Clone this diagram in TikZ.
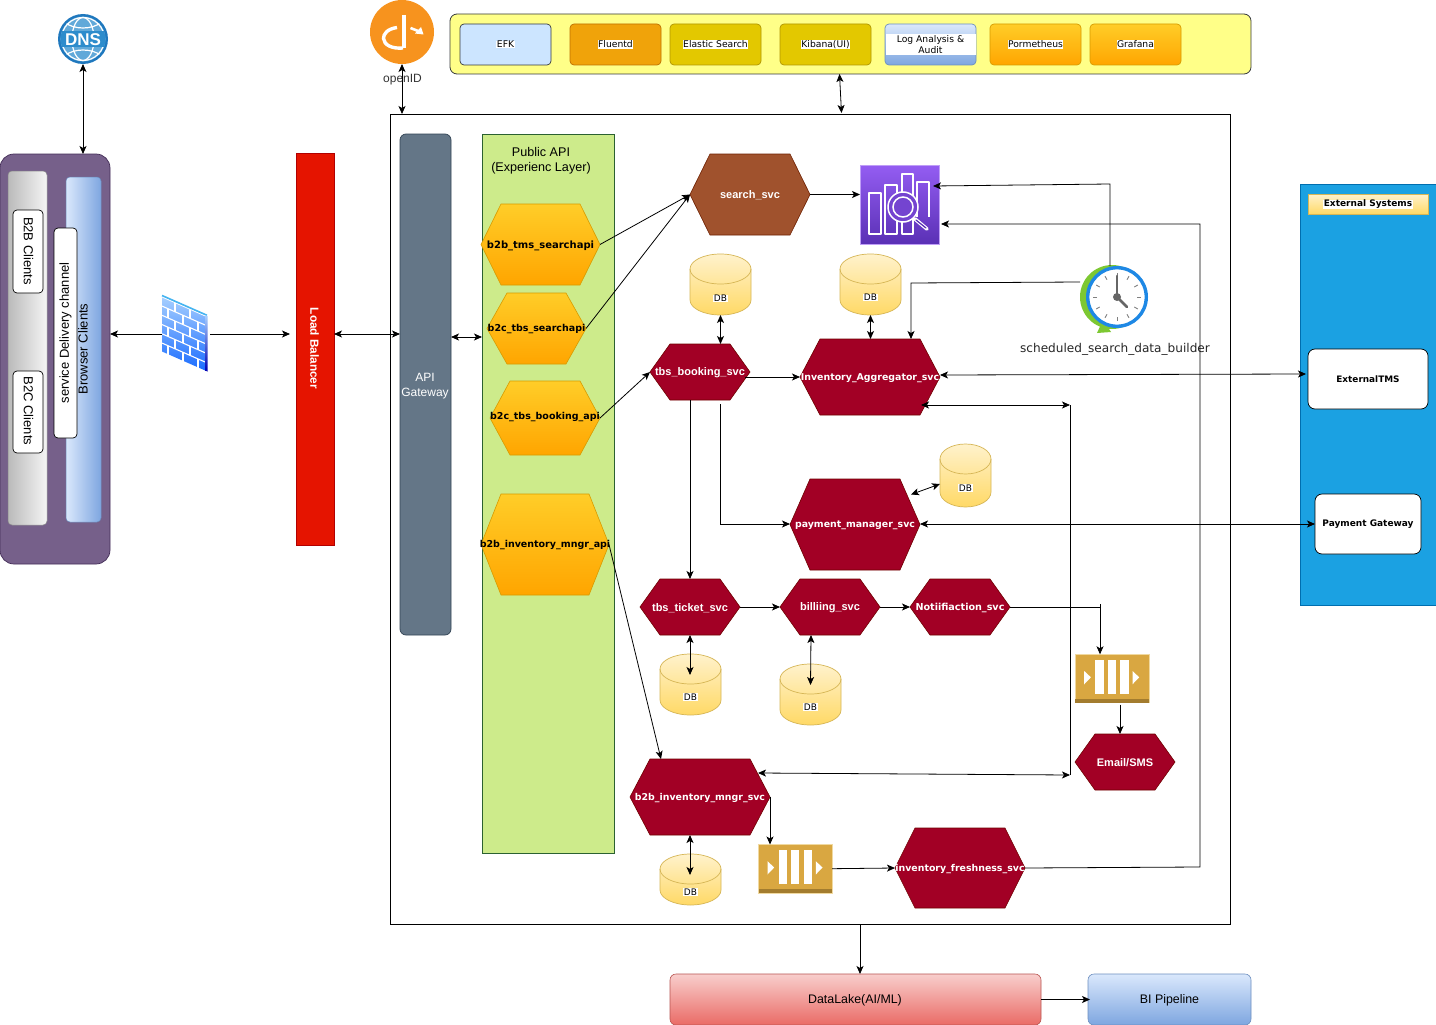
\documentclass[tikz,border=0pt]{standalone}
\usepackage{fontspec}
\setmainfont{Liberation Sans}
\newfontfamily\dvs{DejaVu Sans}
\usetikzlibrary{arrows.meta,calc}
\definecolor{crim}{HTML}{A20025}\definecolor{crimb}{HTML}{6F0000}
\definecolor{sienna}{HTML}{A0522D}\definecolor{siennab}{HTML}{6D1F00}
\definecolor{orT}{HTML}{FFCD28}\definecolor{orB}{HTML}{FFA500}\definecolor{orL}{HTML}{D79B00}
\definecolor{dbT}{HTML}{FFF2CC}\definecolor{dbB}{HTML}{FFD966}\definecolor{dbL}{HTML}{D6B656}
\definecolor{blT}{HTML}{DAE8FC}\definecolor{blB}{HTML}{7EA6E0}\definecolor{blL}{HTML}{6C8EBF}
\definecolor{redT}{HTML}{F8CECC}\definecolor{redB}{HTML}{EA6B66}\definecolor{redL}{HTML}{B85450}
\definecolor{purp}{HTML}{76608A}\definecolor{purpL}{HTML}{432D57}
\definecolor{gwF}{HTML}{647687}\definecolor{gwL}{HTML}{314354}
\definecolor{lbF}{HTML}{E51400}\definecolor{lbL}{HTML}{B20000}
\definecolor{grn}{HTML}{CDEB8B}\definecolor{yel}{HTML}{FFFF88}\definecolor{dk}{HTML}{36393D}
\definecolor{efk}{HTML}{CCE5FF}\definecolor{flu}{HTML}{F0A30A}\definecolor{fluL}{HTML}{BD7000}
\definecolor{ela}{HTML}{E3C800}\definecolor{elaL}{HTML}{B09500}
\definecolor{ext}{HTML}{1BA1E2}\definecolor{extL}{HTML}{006EAF}
\definecolor{gold}{HTML}{D9A741}\definecolor{goldD}{HTML}{A37C2E}\definecolor{goldL}{HTML}{F0D9A0}
\definecolor{opn}{HTML}{F7931E}\definecolor{dnsb}{HTML}{2D8CCC}\definecolor{dnsd}{HTML}{1F78BE}
\definecolor{awsT}{HTML}{945DF2}\definecolor{awsB}{HTML}{5A30B5}
\definecolor{fwT}{HTML}{A8D0FF}\definecolor{fwB}{HTML}{1A6CFF}\definecolor{fwE}{HTML}{45B4F0}
\definecolor{clkB}{HTML}{1E88E5}\definecolor{clkG}{HTML}{7DC832}
\tikzset{
  x=1pt,y=-1pt,
  every node/.style={inner sep=0pt,outer sep=0pt},
  arr/.style={-{Stealth[length=8pt,width=7pt,inset=2pt]},line width=.8pt,black},
  dbl/.style={{Stealth[length=8pt,width=7pt,inset=2pt]}-{Stealth[length=8pt,width=7pt,inset=2pt]},line width=.8pt,black},
  ln/.style={line width=.8pt,black},
  crimson/.style={fill=crim,draw=crimb,line width=.6pt},
  siennahex/.style={fill=sienna,draw=siennab,line width=.6pt},
  orhex/.style={top color=orT,bottom color=orB,draw=orL,line width=.6pt},
  wlab/.style={text=white,yshift=-1pt,font=\fontsize{11}{13}\selectfont\bfseries},
  wver/.style={text=white,yshift=-1pt,font=\fontsize{9.4}{11}\selectfont\dvs\bfseries},
  blab/.style={text=black,yshift=-1pt,font=\fontsize{9.5}{11}\selectfont\dvs\bfseries},
  sans/.style={font=\fontsize{13}{15}\selectfont,align=center},
  tool/.style={rounded corners=4pt,line width=.7pt},
  tlab/.style={fill=white,inner sep=.5pt,font=\fontsize{9.2}{10.5}\selectfont\dvs,align=center},
  whitebox/.style={fill=white,draw=black,rounded corners=4pt,line width=.7pt},
}
\newcommand{\pbox}[7]{% style name x1 y1 x2 y2 text
  \node[#1,minimum width={(#5-#3)*1pt},minimum height={(#6-#4)*1pt}] (#2) at ({(#3+#5)/2},{(#4+#6)/2}) {#7};}
\newcommand{\hexa}[9]{% fill name x1 y1 x2 y2 inset labelstyle text
  \path[#1] (#3,{(#4+#6)/2}) -- ({#3+#7},#4) -- ({#5-#7},#4) -- (#5,{(#4+#6)/2}) -- ({#5-#7},#6) -- ({#3+#7},#6) -- cycle;
  \pbox{}{#2}{#3}{#4}{#5}{#6}{}
  \node[#8] (#2t) at (#2) {#9};}
\newcommand{\dbcyl}[6]{% name x1 y1 x2 y2 labely
  \path[top color=dbT,bottom color=dbB,draw=dbL,line width=.7pt]
    (#2,{#3+15}) arc[start angle=180,end angle=0,x radius={(#4-#2)/2},y radius=-15]
    -- (#4,{#5-15}) arc[start angle=360,end angle=180,x radius={(#4-#2)/2},y radius=-15] -- cycle;
  \draw[dbL,line width=.7pt] (#2,{#3+15}) arc[start angle=180,end angle=360,x radius={(#4-#2)/2},y radius=-15];
  \pbox{}{#1}{#2}{#3}{#4}{#5}{}
  \node[tlab,font=\fontsize{9}{10}\selectfont\dvs] (#1t) at ({(#2+#4)/2},#6) {DB};}
\newcommand{\qicon}[3]{% name x y
  \pbox{fill=gold,draw=goldL,line width=.5pt}{#1}{#2}{#3}{#2+73.6}{#3+48.4}{}
  \fill[goldD] (#2,{#3+44.6}) rectangle ({#2+73.6},{#3+48.4});
  \foreach \qx in {20,32.3,45}{\fill[white] ({#2+\qx},{#3+5.7}) rectangle ({#2+\qx+8.3},{#3+39.7});}
  \fill[white] ({#2+9},{#3+16.7}) -- ({#2+15.7},{#3+23}) -- ({#2+9},{#3+30}) -- cycle;
  \fill[white] ({#2+57.3},{#3+16.7}) -- ({#2+64},{#3+23}) -- ({#2+57.3},{#3+30}) -- cycle;}
\begin{document}
\begin{tikzpicture}
\useasboundingbox (0,0) rectangle (1436,1025);
\fill[white] (0,0) rectangle (1436,1025);

% --- containers
\pbox{fill=white,draw=black,line width=.9pt}{main}{390}{114}{1230}{924}{}
\pbox{fill=yel,draw=dk,rounded corners=7pt,line width=.8pt}{mon}{450}{14}{1251}{74}{}
\pbox{fill=grn,draw=dk!80!green,line width=.8pt}{pub}{482}{134}{614}{853}{}
\node[sans,font=\fontsize{12.6}{15}\selectfont] (pubt) at (541,160.5) {Public API\\(Experienc Layer)};

% --- client channel
\pbox{fill=purp,draw=purpL,rounded corners=14pt,line width=.7pt}{chan}{0}{154}{110}{564}{}
\pbox{left color=black!27,right color=black!4,draw=black!45,rounded corners=4pt,line width=.5pt}{gray}{8}{171}{47}{525}{}
\pbox{left color=blT,right color=blB,draw=blL,rounded corners=4pt,line width=.5pt}{browser}{66}{177}{101}{522}{}
\pbox{whitebox}{sdc}{54}{228}{77}{438}{}
\pbox{whitebox}{b2b}{13}{210}{43}{293}{}
\pbox{whitebox}{b2c}{13}{371}{43}{453}{}
\node[sans,rotate=-90] (b2bt) at (28.5,251) {B2B Clients};
\node[sans,rotate=-90] (b2ct) at (28.5,411) {B2C Clients};
\node[sans,rotate=90] (sdct) at (65.5,333) {service Delivery channel};
\node[sans,rotate=90] (brt) at (83,349) {Browser Clients};

% --- DNS
\pbox{}{dns}{58}{14}{108}{64}{}
\fill[dnsd] (dns) circle[radius=25];
\fill[dnsb!75!white] (dns) circle[radius=22.5];
\begin{scope}
\clip (dns) circle[radius=22.5];
\draw[white,line width=1.2pt] (dns) ellipse[x radius=11,y radius=21.5];
\draw[white,line width=1.2pt] (dns) circle[radius=21.5];
\draw[white,line width=1.2pt] (64,22) .. controls (74,30) and (92,30) .. (102,22);
\draw[white,line width=1.2pt] (64,56) .. controls (74,48) and (92,48) .. (102,56);
\fill[dnsb] (60,31) rectangle (106,47);
\end{scope}
\node[text=white,font=\fontsize{17}{17}\selectfont\bfseries] (dnst) at (83,40) {DNS};

% --- firewall
\pbox{}{fw}{162}{295}{208}{373}{}
\begin{scope}[shift={(162,296)},yslant=-.44]
  \shade[top color=fwT,bottom color=fwB,draw=none] (0,0) rectangle (43.5,55.5);
  \foreach \r in {0,...,5}{\draw[white,line width=1.1pt] (0,{\r*9.25+.8}) -- (43.5,{\r*9.25+.8});}
  \foreach \r in {0,2,4}{\foreach \c in {13,28}{\draw[white,line width=1.1pt] (\c,{\r*9.25+.8}) -- (\c,{(\r+1)*9.25+.8});}}
  \foreach \r in {1,3,5}{\foreach \c in {6,21,36}{\draw[white,line width=1.1pt] (\c,{\r*9.25+.8}) -- (\c,{(\r+1)*9.25+.8});}}
  \draw[fwE,line width=1.6pt] (0,-.5) -- (45,-.5);
  \shade[top color=fwT,bottom color=blue!70!black] (43.5,0) rectangle (45.5,55.5);
\end{scope}

% --- load balancer and gateway
\pbox{fill=lbF,draw=lbL,line width=.7pt}{lb}{296}{153}{334}{545}{}
\node[text=white,font=\fontsize{11.8}{13}\selectfont\bfseries,rotate=-90] (lbt) at (314.5,348.5) {Load Balancer};
\pbox{fill=gwF,draw=gwL,rounded corners=6pt,line width=.7pt}{gw}{400}{134}{451}{635}{}
\node[sans,font=\fontsize{12}{15}\selectfont,text=white] (gwt) at (425,386) {API\\Gateway};

% --- openID
\pbox{}{oid}{370}{0}{434}{64}{}
\fill[opn] (oid) circle[radius=32];
\draw[white,line width=4pt] (403.7,15) -- (403.7,48.5);
\draw[white,line width=3.4pt] (397,27.5) .. controls (387,29) and (383.5,34) .. (383.5,38.5) .. controls (384,45) and (392,49) .. (403,48);
\draw[white,line width=2.6pt] (410.5,28) -- (418,31);
\fill[white] (421,27) -- (423.5,34.5) -- (415,33.5) -- cycle;
\node[font=\fontsize{12}{14}\selectfont,text=black!80] (oidt) at (402.5,79.5) {openID};

% --- monitoring tools
\pbox{tool,fill=efk,draw=dk}{efk}{460}{24}{551}{65}{}
\pbox{tool,fill=flu,draw=fluL}{fluentd}{570}{24}{661}{65}{}
\pbox{tool,fill=ela,draw=elaL}{elastic}{670}{24}{761}{65}{}
\pbox{tool,fill=ela,draw=elaL}{kibana}{780}{24}{871}{65}{}
\pbox{tool,top color=blT,bottom color=blB,draw=blL}{logs}{885}{24}{976}{65}{}
\fill[white] (885.5,34) rectangle (975.5,55);
\pbox{tool,top color=orT,bottom color=orB,draw=orL}{prom}{990}{24}{1081}{65}{}
\pbox{tool,top color=orT,bottom color=orB,draw=orL}{grafana}{1090}{24}{1181}{65}{}
\node[tlab] (efkt) at (efk) {EFK};
\node[tlab] (fluentdt) at (fluentd) {Fluentd};
\node[tlab] (elastict) at (elastic) {Elastic Search};
\node[tlab] (kibanat) at (kibana) {Kibana(UI)};
\node[tlab] (logst) at (930.5,44.5) {Log Analysis \&\\Audit};
\node[tlab] (promt) at (prom) {Pormetheus};
\node[tlab] (grafanat) at (grafana) {Grafana};

% --- experience layer
\hexa{orhex}{tmsapi}{481}{204}{600}{285}{20}{blab,font=\fontsize{10}{11}\selectfont\dvs\bfseries}{b2b\_tms\_searchapi}
\hexa{orhex}{tbsapi}{487}{293}{586}{364}{20}{blab}{b2c\_tbs\_searchapi}
\hexa{orhex}{bookapi}{490}{381}{600}{455}{20}{blab,yshift=2pt}{b2c\_tbs\_booking\_api}
\hexa{orhex}{invapi}{481}{494}{609}{595}{20}{blab}{b2b\_inventory\_mngr\_api}

% --- services
\hexa{siennahex}{search}{690}{154}{810}{235}{20}{wlab}{search\_svc}
\hexa{crimson}{booking}{650}{344}{750}{400}{20}{wlab}{tbs\_booking\_svc}
\hexa{crimson}{aggr}{800}{339}{940}{415}{20}{wver}{Inventory\_Aggregator\_svc}
\hexa{crimson}{pay}{790}{479}{920}{570}{20}{wver}{payment\_manager\_svc}
\hexa{crimson}{ticket}{640}{579}{740}{635}{20}{wlab}{tbs\_ticket\_svc}
\hexa{crimson}{bill}{780}{579}{880}{635}{20}{wlab}{billiing\_svc}
\hexa{crimson}{notif}{910}{579}{1010}{635}{20}{wver,font=\fontsize{9.6}{11}\selectfont\dvs\bfseries}{Notiifiaction\_svc}
\hexa{crimson}{invsvc}{630}{759}{770}{835}{20}{wver}{b2b\_inventory\_mngr\_svc}
\hexa{crimson}{fresh}{895}{828}{1025}{908}{20}{wver}{inventory\_freshness\_svc}
\hexa{crimson}{email}{1075}{734}{1175}{790}{20}{wlab}{Email/SMS}

% --- databases
\dbcyl{dba}{690}{254}{751}{315}{298.5}
\dbcyl{dbb}{840}{254}{901}{315}{297.5}
\dbcyl{dbc}{940}{444}{991}{507}{488}
\dbcyl{dbd}{660}{654}{721}{715}{697}
\dbcyl{dbe}{780}{664}{841}{725}{707}
\dbcyl{dbf}{660}{854}{721}{905}{892}

% --- queues
\qicon{qa}{1075.2}{654.3}
\qicon{qb}{758.5}{844.5}

% --- analytics icon
\pbox{top color=awsT,bottom color=awsB,draw=awsT!60!white,line width=.5pt}{ana}{860}{165}{939}{244}{}
\draw[white,line width=1.3pt,line join=round]
  (869,193) rectangle (881,234)
  (885,234) -- (885,185) -- (897,185) -- (897,234) -- cycle
  (902,234) -- (902,174) -- (913,174) -- (913,234) -- cycle
  (917,217) -- (917,182) -- (929,182) -- (929,217);
\fill[awsB!55!awsT] (903,207) circle[radius=15];
\draw[white,line width=1.5pt] (903,207) circle[radius=15] (903,207) circle[radius=10];
\draw[white,line width=3.6pt,line cap=round] (915,219) -- (927,229);
\draw[awsB,line width=1.2pt,line cap=round] (916,220) -- (926,228);

% --- clock
\pbox{}{clock}{1080}{266}{1148}{334}{}
\fill[clkG] (1112,297) circle[radius=32];
\fill[clkG] (1097,333) -- (1111,332) -- (1103,320) -- cycle;
\fill[white] (1117,297) circle[radius=28];
\draw[clkB,line width=3.4pt] (1117,297) circle[radius=29.3];
\foreach \a in {30,60,...,360}{\draw[black!50,line width=.9pt] ($(1117,297)+(\a:20)$) -- ($(1117,297)+(\a:24)$);}
\draw[black!60,line width=2.6pt,line cap=round] (1117,297) -- (1117,276);
\draw[black!60,line width=2.6pt,line cap=round] (1117,297) -- (1127,307);
\fill[black!60] (1117,297) circle[radius=4];
\node[font=\fontsize{12.1}{14}\selectfont\dvs,text=black!85] (clockt) at (1115,349) {scheduled\_search\_data\_builder};

% --- external systems
\pbox{fill=ext,draw=extL,line width=.7pt}{extp}{1300}{184}{1436}{605}{}
\pbox{top color=dbT,bottom color=dbB,draw=dbL,line width=.6pt}{extt}{1308}{194}{1428}{214}{}
\node[tlab,font=\fontsize{9}{10}\selectfont\dvs\bfseries] (exttt) at (1368,204.5) {External Systems};
\pbox{whitebox,rounded corners=7pt}{tms}{1308}{349}{1428}{409}{}
\node[font=\fontsize{8.9}{10}\selectfont\dvs\bfseries] (tmst) at (tms) {ExternalTMS};
\pbox{whitebox,rounded corners=7pt}{pgw}{1315}{494}{1421}{554}{}
\node[font=\fontsize{9}{10}\selectfont\dvs\bfseries] (pgwt) at (1368,524.5) {Payment Gateway};

% --- data lake
\pbox{top color=redT,bottom color=redB,draw=redL,rounded corners=6pt,line width=.6pt}{lake}{670}{974}{1041}{1025}{}
\node[font=\fontsize{12.4}{14}\selectfont,text=black] (laket) at (855,1000) {DataLake(AI/ML)};
\pbox{top color=blT,bottom color=blB,draw=blL,rounded corners=6pt,line width=.6pt}{bi}{1088}{974}{1251}{1025}{}
\node[font=\fontsize{12.4}{14}\selectfont,text=black] (bit) at (1169.5,1000) {BI Pipeline};

% --- helper points
\coordinate (k1) at (1110,184);
\coordinate (k2) at (911,283);
\coordinate (k3) at (1200,867);
\coordinate (k4) at (1200,224);
\coordinate (k5) at (1070,405);
\coordinate (k6) at (1070,775);
\coordinate (k7) at (720,524);
\coordinate (k8) at (1100,607);
\coordinate (k9) at (770,797);
\coordinate (y337) at (0,337);

% --- connectors
\draw[dbl] (dns.south) -- (dns.south |- chan.north);
\draw[arr] (fw.west) -- (fw.west -| chan.east);
\draw[arr,shorten <=2pt,shorten >=6pt] (fw.east) -- (fw.east -| lb.west);
\draw[dbl] (lb.east |- fw) -- (gw.west |- fw);
\draw[dbl] (gw.east |- y337) -- (pub.west |- y337);
\draw[dbl] (oid.south) -- (oid.south |- main.north);
\draw[dbl] ([xshift=-11pt]mon.south) -- ([xshift=-9pt,yshift=1pt]mon.south |- main.north);
\draw[arr] (tmsapi.east) -- (search.west);
\draw[arr] (tbsapi.east) -- (search.west);
\draw[arr] (bookapi.east) -- (booking.west);
\draw[arr] (invapi.east) -- ([xshift=-39pt]invsvc.north);
\draw[arr] (search.east) -- (search.east -| ana.west);
\draw[arr] ([xshift=-4pt]clock.north) -- (k1) -- ([xshift=-6pt,yshift=18.5pt]ana.east);
\draw[arr] ([yshift=18pt]clock.west) -- (k2) -- (k2 |- aggr.north);
\draw[arr] (fresh.east) -- (k3) -- (k4) -- ([xshift=2pt,yshift=-19.5pt]ana.east);
\draw[dbl] ([yshift=2pt]aggr.east) -- ([yshift=5pt,xshift=-2pt]tms.west);
\draw[dbl] ([xshift=-19pt,yshift=-28pt]aggr.east) -- (k5);
\draw[ln] (k5) -- (k6);
\draw[dbl] ([xshift=-12pt,yshift=24pt]invsvc.east) -- (k6);
\draw[dbl] (dba.south) -- (dba.south |- booking.north);
\draw[dbl] (dbb.south) -- (dbb.south |- aggr.north);
\draw[arr] ([xshift=-5pt,yshift=-5pt]booking.east) -- (aggr.west);
\draw[arr] ([xshift=-10pt]booking.south) -- ([xshift=-10pt]booking.south |- ticket.north);
\draw[arr] ([xshift=20pt,yshift=-4pt]booking.south) -- (k7) -- (k7 -| pay.west);
\draw[dbl] ([xshift=-9pt,yshift=30pt]pay.east) -- ([yshift=-8.5pt]dbc.west);
\draw[dbl] (k7 -| pay.east) -- (k7 -| pgw.west);
\draw[arr] (ticket.east) -- (bill.west);
\draw[arr] (bill.east) -- (notif.west);
\draw[ln] (notif.east) -- (k8);
\draw[arr] ([yshift=3pt]k8) -- (k8 |- qa.north);
\draw[arr] ([xshift=8pt,yshift=-2pt]qa.south) -- ([xshift=-5pt]email.north);
\draw[dbl] (ticket.south) -- ([xshift=-.5pt,yshift=40pt]dbd.south);
\draw[dbl] ([xshift=-19pt]bill.south) -- ([yshift=40pt]dbe.south);
\draw[dbl] ([xshift=-10pt]invsvc.south) -- ([xshift=-.5pt,yshift=30pt]dbf.south);
\draw[arr] (invsvc.east) -- (k9 |- qb.north);
\draw[arr] (qb.east) -- (fresh.west);
\draw[arr] (main.south -| lake.north) ++(4.5,0) -- ++(0,50);
\draw[arr] (lake.east) -- ([xshift=2pt]bi.west);
\end{tikzpicture}
\end{document}
